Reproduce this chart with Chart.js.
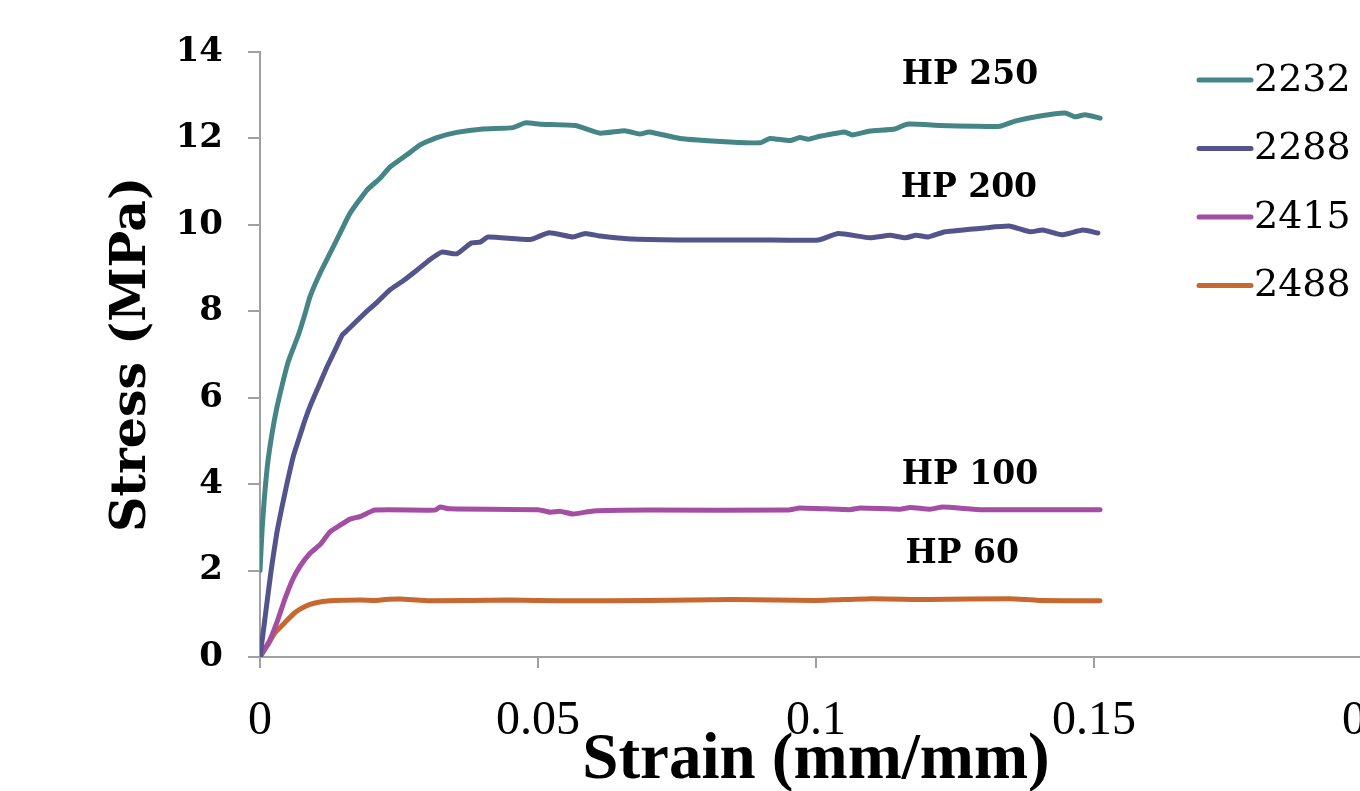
<!DOCTYPE html>
<html>
<head>
<meta charset="utf-8">
<title>Stress vs Strain</title>
<script src="https://cdn.jsdelivr.net/npm/chart.js@4.4.0/dist/chart.umd.min.js"></script>
<style>
  html, body { margin: 0; padding: 0; background: #fff; overflow: hidden; }
  #wrap { width: 1360px; height: 791px; overflow: hidden; }
</style>
</head>
<body>
<div id="wrap"><canvas id="chartSS" width="1600" height="791"></canvas></div>
<script>
// ─── data ───
var seriesNames  = ['2232 / HP 250', '2288 / HP 200', '2415 / HP 100', '2488 / HP 60'];
var seriesColors = ['#468586', '#53548C', '#A34DA3', '#C86830'];

var strain2232 = [0, 0.0004, 0.0008, 0.0014, 0.0022, 0.003, 0.004, 0.005, 0.006, 0.0069, 0.008, 0.009, 0.0108, 0.0129, 0.0144, 0.0162, 0.0192, 0.0216, 0.0234, 0.0264, 0.0288, 0.0318, 0.0354, 0.0401, 0.0455, 0.0477, 0.0504, 0.0567, 0.0612, 0.0656, 0.0683, 0.07, 0.0755, 0.0845, 0.09, 0.0917, 0.0953, 0.0971, 0.0986, 0.1007, 0.1052, 0.1065, 0.1097, 0.1142, 0.1164, 0.1223, 0.1286, 0.1331, 0.1358, 0.1403, 0.1448, 0.1466, 0.1484, 0.1511];
var stress2232 = [2.0, 3.0, 3.7, 4.5, 5.2, 5.75, 6.3, 6.8, 7.15, 7.45, 7.9, 8.34, 8.88, 9.42, 9.81, 10.27, 10.8, 11.08, 11.34, 11.62, 11.85, 12.02, 12.14, 12.22, 12.25, 12.36, 12.33, 12.3, 12.12, 12.18, 12.1, 12.15, 12.0, 11.92, 11.9, 12.0, 11.95, 12.02, 11.98, 12.05, 12.15, 12.08, 12.17, 12.22, 12.33, 12.3, 12.28, 12.28, 12.4, 12.52, 12.59, 12.5, 12.55, 12.47];

var strain2288 = [0, 0.001, 0.002, 0.003, 0.004, 0.005, 0.006, 0.007, 0.008, 0.009, 0.0105, 0.012, 0.0135, 0.0148, 0.0156, 0.0168, 0.018, 0.0192, 0.021, 0.0234, 0.0257, 0.0282, 0.0306, 0.0327, 0.0354, 0.038, 0.0396, 0.041, 0.0486, 0.052, 0.0563, 0.0585, 0.0612, 0.066, 0.075, 0.09, 0.1004, 0.104, 0.1097, 0.1133, 0.116, 0.118, 0.1202, 0.1232, 0.1304, 0.1349, 0.1385, 0.1408, 0.1442, 0.148, 0.1507];
var stress2288 = [0, 1.0, 2.0, 2.85, 3.5, 4.1, 4.65, 5.05, 5.45, 5.8, 6.25, 6.7, 7.1, 7.45, 7.55, 7.7, 7.85, 8.0, 8.2, 8.5, 8.7, 8.95, 9.2, 9.37, 9.33, 9.58, 9.6, 9.72, 9.66, 9.82, 9.72, 9.8, 9.74, 9.68, 9.65, 9.65, 9.65, 9.8, 9.7, 9.76, 9.7, 9.76, 9.72, 9.84, 9.93, 9.97, 9.84, 9.88, 9.77, 9.88, 9.81];

var strain2415 = [0, 0.0018, 0.0032, 0.0045, 0.0059, 0.0072, 0.009, 0.0108, 0.0126, 0.0144, 0.0162, 0.018, 0.0207, 0.0315, 0.0324, 0.034, 0.05, 0.0522, 0.054, 0.0563, 0.06, 0.07, 0.095, 0.0971, 0.1061, 0.108, 0.1151, 0.117, 0.1205, 0.1228, 0.13, 0.1511];
var stress2415 = [0, 0.4, 0.86, 1.35, 1.8, 2.1, 2.4, 2.6, 2.9, 3.05, 3.19, 3.25, 3.4, 3.4, 3.47, 3.43, 3.41, 3.35, 3.37, 3.31, 3.38, 3.4, 3.4, 3.45, 3.41, 3.45, 3.42, 3.46, 3.42, 3.47, 3.41, 3.41];

var strain2488 = [0, 0.0014, 0.0027, 0.0045, 0.0063, 0.0081, 0.0099, 0.0126, 0.018, 0.0207, 0.0225, 0.0252, 0.0306, 0.045, 0.054, 0.07, 0.085, 0.1, 0.11, 0.12, 0.1349, 0.14, 0.1511];
var stress2488 = [0, 0.28, 0.56, 0.8, 1.03, 1.17, 1.25, 1.3, 1.32, 1.31, 1.33, 1.34, 1.3, 1.32, 1.3, 1.31, 1.33, 1.31, 1.35, 1.33, 1.35, 1.31, 1.3];

var xTickLabels = ['0', '0.05', '0.1', '0.15', '0.2'];
var yTickLabels = ['0', '2', '4', '6', '8', '10', '12', '14'];

var curveLabels  = ['HP 250', 'HP 200', 'HP 100', 'HP 60'];
var curveLabelX  = [0.1277, 0.1275, 0.1277, 0.1263];
var curveLabelY  = [13.45, 10.85, 4.21, 2.38];

// ─── helpers ───
function _pts(xs, ys) {
  return xs.map(function(x, i) { return { x: x, y: ys[i] }; });
}

var allStrain = [strain2232, strain2288, strain2415, strain2488];
var allStress = [stress2232, stress2288, stress2415, stress2488];

var datasets = seriesNames.map(function(name, i) {
  return {
    label: name,
    data: _pts(allStrain[i], allStress[i]),
    borderColor: seriesColors[i],
    backgroundColor: seriesColors[i],
    borderWidth: 5,
    pointRadius: 0,
    tension: 0.15,
    borderCapStyle: 'round',
    borderJoinStyle: 'round',
    fill: false
  };
});

// HP labels next to the curves, placed in data units
var curveLabelPlugin = {
  id: 'curveLabels',
  afterDatasetsDraw: function(chart) {
    var ctx = chart.ctx, xs = chart.scales.x, ys = chart.scales.y;
    ctx.save();
    ctx.font = 'bold 33px "DejaVu Serif"';
    ctx.fillStyle = '#000';
    ctx.textAlign = 'center';
    ctx.textBaseline = 'middle';
    curveLabels.forEach(function(t, i) {
      ctx.fillText(t, xs.getPixelForValue(curveLabelX[i]), ys.getPixelForValue(curveLabelY[i]));
    });
    ctx.restore();
  }
};

// legend box up at the right, like the spreadsheet one
var legendPlugin = {
  id: 'sideLegend',
  afterDraw: function(chart) {
    var ctx = chart.ctx;
    var lx = 1199, ly = 80, gap = 68.5;
    ctx.save();
    ctx.lineCap = 'round';
    ctx.lineWidth = 5;
    ctx.font = '38px "DejaVu Serif"';
    ctx.textBaseline = 'middle';
    ctx.textAlign = 'left';
    chart.data.datasets.forEach(function(ds, i) {
      var y = ly + i * gap;
      ctx.strokeStyle = ds.borderColor;
      ctx.beginPath();
      ctx.moveTo(lx, y);
      ctx.lineTo(lx + 52, y);
      ctx.stroke();
      ctx.fillStyle = '#000';
      ctx.fillText(ds.label, lx + 55, y + 1);
    });
    ctx.restore();
  }
};

var axisGrey = '#A0A0A0';

new Chart(document.getElementById('chartSS'), {
  type: 'line',
  data: { datasets: datasets },
  options: {
    responsive: false,
    animation: false,
    layout: { padding: { left: 0, top: 52, right: 228, bottom: 0 } },
    plugins: {
      legend: { display: false },
      tooltip: { enabled: false }
    },
    scales: {
      x: {
        type: 'linear',
        min: 0,
        max: 0.2,
        afterFit: function(s) { s.height = 134; },
        ticks: {
          stepSize: 0.05,
          color: '#000',
          padding: 25,
          maxRotation: 0,
          font: { family: '"Liberation Serif"', size: 48 },
          callback: function(v, i) { return xTickLabels[i]; }
        },
        grid: { drawOnChartArea: false, drawTicks: true, tickLength: 11, color: axisGrey, lineWidth: 2 },
        border: { color: axisGrey, width: 2 },
        title: {
          display: true,
          text: 'Strain (mm/mm)',
          color: '#000',
          font: { family: '"Liberation Serif"', weight: 'bold', size: 65, lineHeight: 1 },
          padding: { top: 0, bottom: -3 }
        }
      },
      y: {
        min: 0,
        max: 14,
        afterFit: function(s) { s.width = 260; },
        ticks: {
          stepSize: 2,
          color: '#000',
          padding: 25,
          font: { family: '"DejaVu Serif"', weight: 'bold', size: 34 },
          callback: function(v, i) { return yTickLabels[i]; }
        },
        grid: { drawOnChartArea: false, drawTicks: true, tickLength: 12, color: axisGrey, lineWidth: 2 },
        border: { color: axisGrey, width: 2 },
        title: {
          display: true,
          text: 'Stress (MPa)',
          color: '#000',
          font: { family: '"DejaVu Serif"', weight: 'bold', size: 49, lineHeight: 1 },
          padding: { top: 108, bottom: 0 }
        }
      }
    }
  },
  plugins: [curveLabelPlugin, legendPlugin]
});
</script>
</body>
</html>
